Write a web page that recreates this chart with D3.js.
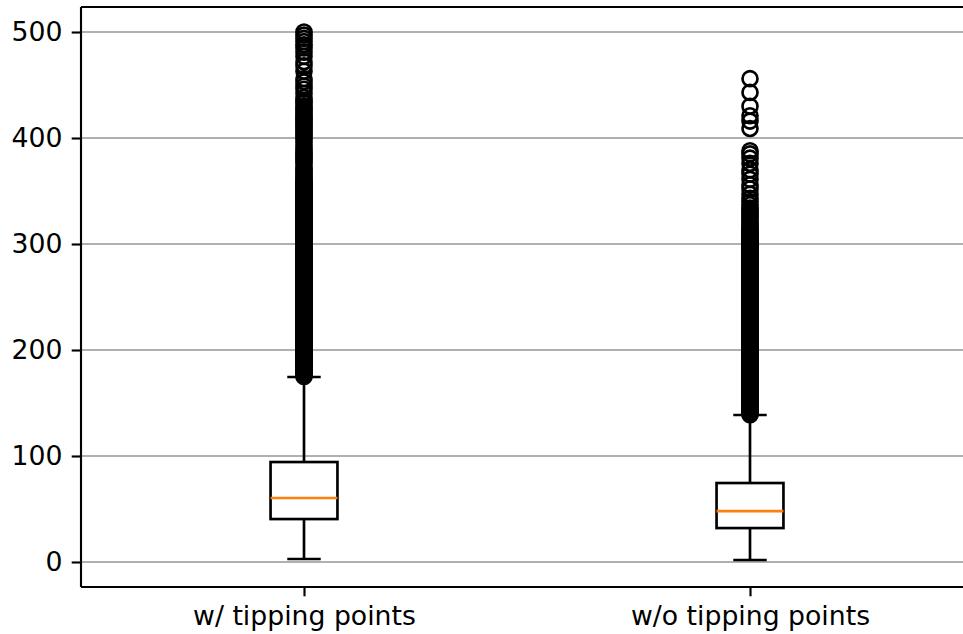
<!DOCTYPE html>
<html>
<head>
<meta charset="utf-8">
<script src="https://cdn.jsdelivr.net/npm/d3@7"></script>
<style>
  body { margin: 0; background: #fff; }
  text { font-family: "DejaVu Sans", sans-serif; }
</style>
</head>
<body>
<div id="chart"></div>
<script>
// categories and box stats
const categories = ["w/ tipping points", "w/o tipping points"];
const whiskerLow = [2.8, 1.9];
const q1 = [40.5, 32];
const median = [60.4, 48];
const q3 = [94.3, 74.5];
const whiskerHigh = [174.5, 138.7];
const yTicks = [0, 100, 200, 300, 400, 500];

// fliers (estimated from the dense columns of circles)
const fliersWith = [
  175, 176, 177, 178, 179, 180, 181, 182, 183, 184, 185, 186, 187, 188, 189, 190, 191, 192, 193, 194,
  195, 196, 197, 198, 199, 200, 201, 202, 203, 204, 205, 206, 207, 208, 209, 210, 211, 212, 213, 214,
  215, 216, 217, 218, 219, 220, 221, 222, 223, 224, 225, 226, 227, 228, 229, 230, 231, 232, 233, 234,
  235, 236, 237, 238, 239, 240, 241, 242, 243, 244, 245, 246, 247, 248, 249, 250, 251, 252, 253, 254,
  255, 256, 257, 258, 259, 260, 261, 262, 263, 264, 265, 266, 267, 268, 269, 270, 271, 272, 273, 274,
  275, 276, 277, 278, 279, 280, 281, 282, 283, 284, 285, 286, 287, 288, 289, 290, 291, 292, 293, 294,
  295, 296, 297, 298, 299, 300, 301, 302, 303, 304, 305, 306, 307, 308, 309, 310, 311, 312, 313, 314,
  315, 316, 317, 318, 319, 320, 321, 322, 323, 324, 325, 326, 327, 328, 329, 330, 331, 332, 333, 334,
  335, 336, 337, 338, 339, 340, 341, 342, 343, 344, 345, 346, 347, 348, 349, 350, 351, 352, 353, 354,
  355, 356, 357, 358, 359, 360, 361, 363, 365, 367, 369, 371, 373, 376, 378, 380, 382, 384, 386, 388,
  390, 393, 396, 399, 402, 404, 406, 408, 410, 412, 414, 416, 418, 420, 422, 424, 426, 428, 430, 433,
  435, 438, 442, 446, 449, 453, 456, 463, 468, 472, 477, 481, 485, 488, 491, 494, 497, 500
];
const fliersWithout = [
  139, 140, 141, 142, 143, 144, 145, 146, 147, 148, 149, 150, 151, 152, 153, 154, 155, 156, 157, 158,
  159, 160, 161, 162, 163, 164, 165, 166, 167, 168, 169, 170, 171, 172, 173, 174, 175, 176, 177, 178,
  179, 180, 181, 182, 183, 184, 185, 186, 187, 188, 189, 190, 191, 192, 193, 194, 195, 196, 197, 198,
  199, 200, 201, 202, 203, 204, 205, 206, 207, 208, 209, 210, 211, 212, 213, 214, 215, 216, 217, 218,
  219, 220, 221, 222, 223, 224, 225, 226, 227, 228, 229, 230, 231, 232, 233, 234, 235, 236, 237, 238,
  239, 240, 241, 242, 243, 244, 245, 246, 247, 248, 249, 250, 251, 252, 253, 254, 255, 256, 257, 258,
  259, 260, 261, 262, 263, 264, 265, 266, 267, 268, 269, 270, 271, 272, 273, 274, 275, 276, 277, 278,
  279, 280, 281, 282, 283, 284, 285, 286, 287, 288, 289, 290, 291, 292, 293, 294, 295, 296, 297, 298,
  299, 300, 301, 302, 303, 304, 305, 306, 307, 308, 309, 310, 311, 312, 313, 314, 316, 318, 320, 322,
  324, 326, 328, 330, 332, 334, 337, 340, 343, 347, 352, 356, 361, 366, 370, 376, 381, 385, 388,
  409, 416, 421, 430, 443, 456
];
const fliers = [fliersWith, fliersWithout];

const width = 963, height = 634;
const margin = {top: 7, left: 81, bottom: 587};
const lw = 2.67, thin = 2.13;

const svg = d3.select("#chart").append("svg")
    .attr("width", width)
    .attr("height", height);

// x positions 1 and 2, limits 0.5..2.5 (right spine falls outside the picture)
const x = d3.scaleLinear().domain([0.5, 2.5]).range([margin.left, 973]);
const y = d3.scaleLinear().domain([-23.6, 523.6]).range([margin.bottom, margin.top]);

// grid
svg.append("g")
    .selectAll("line")
    .data(yTicks)
    .join("line")
    .attr("x1", margin.left).attr("x2", width)
    .attr("y1", d => y(d)).attr("y2", d => y(d))
    .attr("stroke", "#b0b0b0")
    .attr("stroke-width", thin);

const boxW = 0.15, capW = 0.075;
const data = categories.map((c, i) => ({
    pos: i + 1, lo: whiskerLow[i], q1: q1[i], med: median[i], q3: q3[i], hi: whiskerHigh[i], fl: fliers[i]
}));

const g = svg.append("g").selectAll("g").data(data).join("g");

// whiskers
g.append("line")
    .attr("x1", d => x(d.pos)).attr("x2", d => x(d.pos))
    .attr("y1", d => y(d.q1)).attr("y2", d => y(d.lo))
    .attr("stroke", "#000").attr("stroke-width", lw);
g.append("line")
    .attr("x1", d => x(d.pos)).attr("x2", d => x(d.pos))
    .attr("y1", d => y(d.q3)).attr("y2", d => y(d.hi))
    .attr("stroke", "#000").attr("stroke-width", lw);
// caps
["lo", "hi"].forEach(k => {
    g.append("line")
        .attr("x1", d => x(d.pos - capW / 2)).attr("x2", d => x(d.pos + capW / 2))
        .attr("y1", d => y(d[k])).attr("y2", d => y(d[k]))
        .attr("stroke", "#000").attr("stroke-width", lw);
});
// box
g.append("rect")
    .attr("x", d => x(d.pos - boxW / 2))
    .attr("width", d => x(d.pos + boxW / 2) - x(d.pos - boxW / 2))
    .attr("y", d => y(d.q3))
    .attr("height", d => y(d.q1) - y(d.q3))
    .attr("fill", "none").attr("stroke", "#000").attr("stroke-width", lw);
// median
g.append("line")
    .attr("x1", d => x(d.pos - boxW / 2)).attr("x2", d => x(d.pos + boxW / 2))
    .attr("y1", d => y(d.med)).attr("y2", d => y(d.med))
    .attr("stroke", "#ff7f0e").attr("stroke-width", lw);
// fliers
g.each(function(d) {
    d3.select(this).append("g").selectAll("circle")
        .data(d.fl)
        .join("circle")
        .attr("cx", x(d.pos))
        .attr("cy", v => y(v))
        .attr("r", 7.5)
        .attr("fill", "none")
        .attr("stroke", "#000")
        .attr("stroke-width", lw);
});

// axes
const yAxis = svg.append("g")
    .attr("transform", `translate(${margin.left},0)`)
    .call(d3.axisLeft(y).tickValues(yTicks).tickSize(9.3).tickPadding(9.3));
const xAxis = svg.append("g")
    .attr("transform", `translate(0,${margin.bottom})`)
    .call(d3.axisBottom(x).tickValues([1, 2]).tickFormat((d, i) => categories[i]).tickSize(9.3).tickPadding(9.3));

[yAxis, xAxis].forEach(a => {
    a.select(".domain").remove();
    a.selectAll(".tick line").attr("stroke", "#000").attr("stroke-width", thin);
    a.selectAll("text").attr("fill", "#000").style("font-size", "26.7px")
        .style("font-family", "'DejaVu Sans', sans-serif");
});

// spines: left, top, bottom
svg.append("line").attr("x1", margin.left).attr("x2", margin.left)
    .attr("y1", margin.top).attr("y2", margin.bottom)
    .attr("stroke", "#000").attr("stroke-width", thin);
svg.append("line").attr("x1", margin.left).attr("x2", width)
    .attr("y1", margin.top).attr("y2", margin.top)
    .attr("stroke", "#000").attr("stroke-width", thin);
svg.append("line").attr("x1", margin.left).attr("x2", width)
    .attr("y1", margin.bottom).attr("y2", margin.bottom)
    .attr("stroke", "#000").attr("stroke-width", thin);
</script>
</body>
</html>
